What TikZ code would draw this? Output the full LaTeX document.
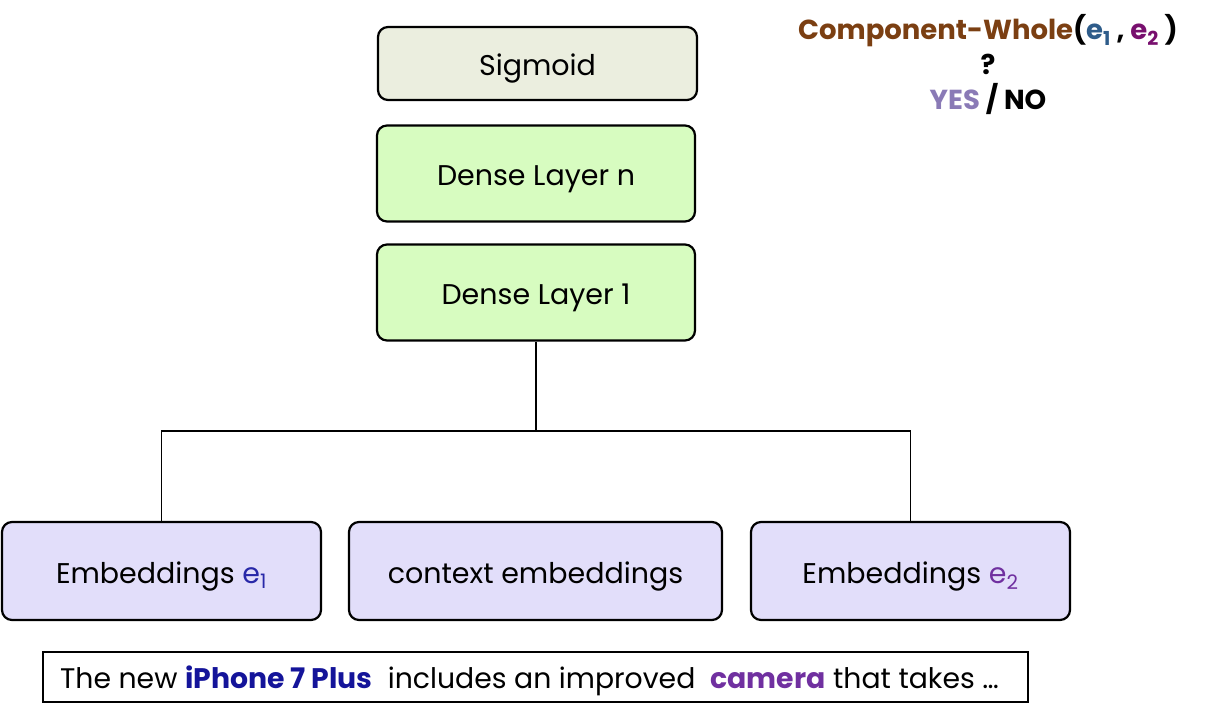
\documentclass[tikz,border=0pt]{standalone}
\usepackage{fontspec}
\setmainfont{Poppins}
\definecolor{sigfill}{HTML}{EBEEDF}
\definecolor{densefill}{HTML}{D7FCC0}
\definecolor{embfill}{HTML}{E2DEFA}
\definecolor{relbrown}{HTML}{7B3F12}
\definecolor{eone}{HTML}{2E5C8A}
\definecolor{etwo}{HTML}{780F6E}
\definecolor{yescol}{HTML}{8A7AB6}
\definecolor{iphone}{HTML}{14149A}
\definecolor{camera}{HTML}{7030A0}
\definecolor{eoneb}{HTML}{2828A8}
\begin{document}
\begin{tikzpicture}[x=1pt,y=-1pt,
  box/.style={draw=black, line width=2.2pt, rounded corners=10pt, font=\fontsize{28.5}{32}\selectfont, inner sep=0pt, text height=24pt, text depth=0pt},
  sigbox/.style={box, fill=sigfill, minimum width=319pt, minimum height=73pt},
  densebox/.style={box, fill=densefill, minimum width=318pt, minimum height=96pt},
  embbox/.style={box, fill=embfill, minimum height=98pt},
  sentbox/.style={draw=black, line width=1.6pt, fill=white, minimum width=985pt, minimum height=50pt, inner sep=0pt, text height=23pt, text depth=0pt, font=\fontsize{28.3}{32}\selectfont},
  conn/.style={draw=black, line width=1.4pt},
  title/.style={font=\bfseries\fontsize{27.5}{32}\selectfont, inner sep=0pt}]
\useasboundingbox (0,0) rectangle (1205,712);
\node[sigbox] (sig) at (537.5,63.5) {Sigmoid};
\node[densebox] (dn) at (536,173.5) {Dense Layer n};
\node[densebox] (d1) at (536,292.5) {Dense Layer 1};
\node[embbox, minimum width=319pt] (e1) at (161.5,571) {Embeddings \textcolor{eoneb}{e\textsubscript{1}}};
\node[embbox, minimum width=373pt] (ctx) at (535.5,571) {context embeddings};
\node[embbox, minimum width=319pt] (e2) at (910.5,571) {Embeddings \textcolor{camera}{e\textsubscript{2}}};
\node[sentbox] (sent) at (535.5,677) {\hspace*{-12pt}The new \textcolor{iphone}{\bfseries iPhone 7 Plus}\ \ includes an improved\ \ \textcolor{camera}{\bfseries camera} that takes \dots};
\coordinate (j) at (536,431);
\draw[conn] (d1.south) -- (j);
\draw[conn] (e1.north) |- (j) -| (e2.north);
\node[title] (rel) at (988,31) {\textcolor{relbrown}{Component-Whole}(\textcolor{eone}{e\textsubscript{1}} , \textcolor{etwo}{e\textsubscript{2}} )};
\node[title] (q) at (988,64) {?};
\node[title] (yn) at (988,99) {\textcolor{yescol}{YES} / NO};
\end{tikzpicture}
\end{document}
